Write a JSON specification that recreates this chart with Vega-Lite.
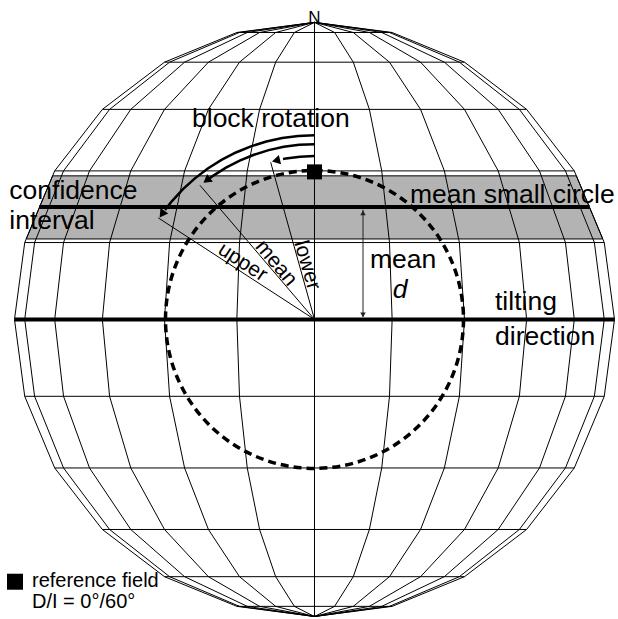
{
"$schema": "https://vega.github.io/schema/vega-lite/v6.json",
"width": 618, "height": 619,
"autosize": {"type": "fit", "contains": "padding"},
"padding": 0,
"background": "white",
"config": {"view": {"stroke": null}, "text": {"font": "Liberation Sans"}},
"datasets": {
"mer": [
{"m":0,"x":0,"y":-1},{"m":0,"x":0,"y":1},
{"m":15,"x":0,"y":-1},{"m":15,"x":0.067,"y":-0.9659},{"m":15,"x":0.1294,"y":-0.866},{"m":15,"x":0.183,"y":-0.7071},{"m":15,"x":0.2241,"y":-0.5},{"m":15,"x":0.25,"y":-0.2588},{"m":15,"x":0.2588,"y":0},{"m":15,"x":0.25,"y":0.2588},{"m":15,"x":0.2241,"y":0.5},{"m":15,"x":0.183,"y":0.7071},{"m":15,"x":0.1294,"y":0.866},{"m":15,"x":0.067,"y":0.9659},{"m":15,"x":0,"y":1},
{"m":30,"x":0,"y":-1},{"m":30,"x":0.1294,"y":-0.9659},{"m":30,"x":0.25,"y":-0.866},{"m":30,"x":0.3536,"y":-0.7071},{"m":30,"x":0.433,"y":-0.5},{"m":30,"x":0.483,"y":-0.2588},{"m":30,"x":0.5,"y":0},{"m":30,"x":0.483,"y":0.2588},{"m":30,"x":0.433,"y":0.5},{"m":30,"x":0.3536,"y":0.7071},{"m":30,"x":0.25,"y":0.866},{"m":30,"x":0.1294,"y":0.9659},{"m":30,"x":0,"y":1},
{"m":45,"x":0,"y":-1},{"m":45,"x":0.183,"y":-0.9659},{"m":45,"x":0.3536,"y":-0.866},{"m":45,"x":0.5,"y":-0.7071},{"m":45,"x":0.6124,"y":-0.5},{"m":45,"x":0.683,"y":-0.2588},{"m":45,"x":0.7071,"y":0},{"m":45,"x":0.683,"y":0.2588},{"m":45,"x":0.6124,"y":0.5},{"m":45,"x":0.5,"y":0.7071},{"m":45,"x":0.3536,"y":0.866},{"m":45,"x":0.183,"y":0.9659},{"m":45,"x":0,"y":1},
{"m":60,"x":0,"y":-1},{"m":60,"x":0.2241,"y":-0.9659},{"m":60,"x":0.433,"y":-0.866},{"m":60,"x":0.6124,"y":-0.7071},{"m":60,"x":0.75,"y":-0.5},{"m":60,"x":0.8365,"y":-0.2588},{"m":60,"x":0.866,"y":0},{"m":60,"x":0.8365,"y":0.2588},{"m":60,"x":0.75,"y":0.5},{"m":60,"x":0.6124,"y":0.7071},{"m":60,"x":0.433,"y":0.866},{"m":60,"x":0.2241,"y":0.9659},{"m":60,"x":0,"y":1},
{"m":75,"x":0,"y":-1},{"m":75,"x":0.25,"y":-0.9659},{"m":75,"x":0.483,"y":-0.866},{"m":75,"x":0.683,"y":-0.7071},{"m":75,"x":0.8365,"y":-0.5},{"m":75,"x":0.933,"y":-0.2588},{"m":75,"x":0.9659,"y":0},{"m":75,"x":0.933,"y":0.2588},{"m":75,"x":0.8365,"y":0.5},{"m":75,"x":0.683,"y":0.7071},{"m":75,"x":0.483,"y":0.866},{"m":75,"x":0.25,"y":0.9659},{"m":75,"x":0,"y":1},
{"m":90,"x":0,"y":-1},{"m":90,"x":0.2588,"y":-0.9659},{"m":90,"x":0.5,"y":-0.866},{"m":90,"x":0.7071,"y":-0.7071},{"m":90,"x":0.866,"y":-0.5},{"m":90,"x":0.9659,"y":-0.2588},{"m":90,"x":1,"y":0},{"m":90,"x":0.9659,"y":0.2588},{"m":90,"x":0.866,"y":0.5},{"m":90,"x":0.7071,"y":0.7071},{"m":90,"x":0.5,"y":0.866},{"m":90,"x":0.2588,"y":0.9659},{"m":90,"x":0,"y":1},
{"m":-15,"x":0,"y":-1},{"m":-15,"x":-0.067,"y":-0.9659},{"m":-15,"x":-0.1294,"y":-0.866},{"m":-15,"x":-0.183,"y":-0.7071},{"m":-15,"x":-0.2241,"y":-0.5},{"m":-15,"x":-0.25,"y":-0.2588},{"m":-15,"x":-0.2588,"y":0},{"m":-15,"x":-0.25,"y":0.2588},{"m":-15,"x":-0.2241,"y":0.5},{"m":-15,"x":-0.183,"y":0.7071},{"m":-15,"x":-0.1294,"y":0.866},{"m":-15,"x":-0.067,"y":0.9659},{"m":-15,"x":0,"y":1},
{"m":-30,"x":0,"y":-1},{"m":-30,"x":-0.1294,"y":-0.9659},{"m":-30,"x":-0.25,"y":-0.866},{"m":-30,"x":-0.3536,"y":-0.7071},{"m":-30,"x":-0.433,"y":-0.5},{"m":-30,"x":-0.483,"y":-0.2588},{"m":-30,"x":-0.5,"y":0},{"m":-30,"x":-0.483,"y":0.2588},{"m":-30,"x":-0.433,"y":0.5},{"m":-30,"x":-0.3536,"y":0.7071},{"m":-30,"x":-0.25,"y":0.866},{"m":-30,"x":-0.1294,"y":0.9659},{"m":-30,"x":0,"y":1},
{"m":-45,"x":0,"y":-1},{"m":-45,"x":-0.183,"y":-0.9659},{"m":-45,"x":-0.3536,"y":-0.866},{"m":-45,"x":-0.5,"y":-0.7071},{"m":-45,"x":-0.6124,"y":-0.5},{"m":-45,"x":-0.683,"y":-0.2588},{"m":-45,"x":-0.7071,"y":0},{"m":-45,"x":-0.683,"y":0.2588},{"m":-45,"x":-0.6124,"y":0.5},{"m":-45,"x":-0.5,"y":0.7071},{"m":-45,"x":-0.3536,"y":0.866},{"m":-45,"x":-0.183,"y":0.9659},{"m":-45,"x":0,"y":1},
{"m":-60,"x":0,"y":-1},{"m":-60,"x":-0.2241,"y":-0.9659},{"m":-60,"x":-0.433,"y":-0.866},{"m":-60,"x":-0.6124,"y":-0.7071},{"m":-60,"x":-0.75,"y":-0.5},{"m":-60,"x":-0.8365,"y":-0.2588},{"m":-60,"x":-0.866,"y":0},{"m":-60,"x":-0.8365,"y":0.2588},{"m":-60,"x":-0.75,"y":0.5},{"m":-60,"x":-0.6124,"y":0.7071},{"m":-60,"x":-0.433,"y":0.866},{"m":-60,"x":-0.2241,"y":0.9659},{"m":-60,"x":0,"y":1},
{"m":-75,"x":0,"y":-1},{"m":-75,"x":-0.25,"y":-0.9659},{"m":-75,"x":-0.483,"y":-0.866},{"m":-75,"x":-0.683,"y":-0.7071},{"m":-75,"x":-0.8365,"y":-0.5},{"m":-75,"x":-0.933,"y":-0.2588},{"m":-75,"x":-0.9659,"y":0},{"m":-75,"x":-0.933,"y":0.2588},{"m":-75,"x":-0.8365,"y":0.5},{"m":-75,"x":-0.683,"y":0.7071},{"m":-75,"x":-0.483,"y":0.866},{"m":-75,"x":-0.25,"y":0.9659},{"m":-75,"x":0,"y":1},
{"m":-90,"x":0,"y":-1},{"m":-90,"x":-0.2588,"y":-0.9659},{"m":-90,"x":-0.5,"y":-0.866},{"m":-90,"x":-0.7071,"y":-0.7071},{"m":-90,"x":-0.866,"y":-0.5},{"m":-90,"x":-0.9659,"y":-0.2588},{"m":-90,"x":-1,"y":0},{"m":-90,"x":-0.9659,"y":0.2588},{"m":-90,"x":-0.866,"y":0.5},{"m":-90,"x":-0.7071,"y":0.7071},{"m":-90,"x":-0.5,"y":0.866},{"m":-90,"x":-0.2588,"y":0.9659},{"m":-90,"x":0,"y":1}
],
"par": [
{"y":0.2588,"x":-0.9659,"x2":0.9659},{"y":-0.2588,"x":-0.9659,"x2":0.9659},
{"y":0.5,"x":-0.866,"x2":0.866},{"y":-0.5,"x":-0.866,"x2":0.866},
{"y":0.7071,"x":-0.7071,"x2":0.7071},{"y":-0.7071,"x":-0.7071,"x2":0.7071},
{"y":0.866,"x":-0.5,"x2":0.5},{"y":-0.866,"x":-0.5,"x2":0.5},
{"y":0.9659,"x":-0.2588,"x2":0.2588},{"y":-0.9659,"x":-0.2588,"x2":0.2588}
],
"band": [{"y":0.4833,"x":-0.8729,"x2":0.8729},{"y":0.2709,"x":-0.9609,"x2":0.9609}],
"thick": [{"y":0,"x":-1,"x2":1},{"y":0.3786,"x":-0.917,"x2":0.917}],
"center": [{"x":0,"y":0}],
"reffield": [{"x":0,"y":0.4967}],
"legsq": [{"x":-0.9983,"y":-0.883}],
"radials": [{"x":0,"y":0,"x2":-0.5207,"y2":0.3418},{"x":0,"y":0,"x2":-0.3817,"y2":0.4515},{"x":0,"y":0,"x2":-0.146,"y2":0.529}],
"arcs": [
{"a":1,"x":0,"y":0.62},{"a":1,"x":-0.0541,"y":0.6176},{"a":1,"x":-0.1076,"y":0.6106},{"a":1,"x":-0.1605,"y":0.5989},{"a":1,"x":-0.212,"y":0.5826},{"a":1,"x":-0.262,"y":0.5619},{"a":1,"x":-0.31,"y":0.5369},{"a":1,"x":-0.3556,"y":0.5079},{"a":1,"x":-0.3985,"y":0.4749},{"a":1,"x":-0.4384,"y":0.4384},{"a":1,"x":-0.4749,"y":0.3985},{"a":1,"x":-0.4984,"y":0.3688},
{"a":2,"x":0,"y":0.59},{"a":2,"x":-0.0514,"y":0.5878},{"a":2,"x":-0.1024,"y":0.581},{"a":2,"x":-0.1527,"y":0.5699},{"a":2,"x":-0.2018,"y":0.5544},{"a":2,"x":-0.2493,"y":0.5347},{"a":2,"x":-0.295,"y":0.5109},{"a":2,"x":-0.3384,"y":0.4833},{"a":2,"x":-0.3512,"y":0.4741},
{"a":3,"x":0,"y":0.55},{"a":3,"x":-0.048,"y":0.5479},{"a":3,"x":-0.0955,"y":0.5416},{"a":3,"x":-0.1049,"y":0.5399}
],
"head1": [{"x":-0.5083,"y":0.3548}],
"head2": [{"x":-0.3592,"y":0.4681}],
"head3": [{"x":-0.1284,"y":0.5348}],
"dline": [{"x":0.1617,"y":0.0084,"y2":0.369}],
"dtop": [{"x":0.1617,"y":0.3589}],
"dbot": [{"x":0.1617,"y":0.0157}],
"big": [
{"x":-0.4083,"y":0.6462,"t":"block rotation"},
{"x":-1.0173,"y":0.4064,"t":"confidence"},
{"x":-1.0173,"y":0.306,"t":"interval"},
{"x":0.3183,"y":0.393,"t":"mean small circle"},
{"x":0.185,"y":0.1722,"t":"mean"},
{"x":0.6017,"y":0.0318,"t":"tilting"},
{"x":0.6017,"y":-0.0853,"t":"direction"}
],
"dlab": [{"x":0.2607,"y":0.0719,"t":"d"}],
"nlab": [{"x":0,"y":0.997,"t":"N"}],
"leg": [{"x":-0.9417,"y":-0.9013,"t":"reference field"},{"x":-0.9417,"y":-0.9716,"t":"D/I = 0°/60°"}],
"lupper": [{"x":-0.24,"y":0.1923,"t":"upper"}],
"lmean": [{"x":-0.1283,"y":0.189,"t":"mean"}],
"llower": [{"x":-0.025,"y":0.1823,"t":"lower"}]
},
"encoding": {
"x": {"field":"x","type":"quantitative","scale":{"domain":[-1.0483,1.0117],"nice":false,"zero":false},"axis":null},
"y": {"field":"y","type":"quantitative","scale":{"domain":[-0.995,1.0753],"nice":false,"zero":false},"axis":null}
},
"layer": [
{"data":{"name":"band"},"mark":{"type":"area","orient":"horizontal","fill":"#b3b3b3","stroke":"black","strokeWidth":1,"opacity":1},"encoding":{"x2":{"field":"x2"}}},
{"data":{"name":"par"},"mark":{"type":"rule","color":"black","strokeWidth":1},"encoding":{"x2":{"field":"x2"}}},
{"data":{"name":"mer"},"mark":{"type":"line","color":"black","strokeWidth":1},"encoding":{"detail":{"field":"m","type":"nominal"},"order":{"field":"y","type":"quantitative"}}},
{"data":{"name":"thick"},"mark":{"type":"rule","color":"black","strokeWidth":4},"encoding":{"x2":{"field":"x2"}}},
{"data":{"name":"center"},"mark":{"type":"point","shape":"circle","size":88804,"filled":false,"stroke":"black","strokeWidth":3.5,"strokeDash":[8,5],"opacity":1},"encoding":{}},
{"data":{"name":"reffield"},"mark":{"type":"point","shape":"square","size":225,"filled":true,"color":"black","opacity":1},"encoding":{}},
{"data":{"name":"legsq"},"mark":{"type":"point","shape":"square","size":256,"filled":true,"color":"black","opacity":1},"encoding":{}},
{"data":{"name":"radials"},"mark":{"type":"rule","color":"black","strokeWidth":1},"encoding":{"x2":{"field":"x2"},"y2":{"field":"y2"}}},
{"data":{"name":"arcs"},"mark":{"type":"line","color":"black","strokeWidth":2.5},"encoding":{"detail":{"field":"a","type":"nominal"}}},
{"data":{"name":"head1"},"mark":{"type":"point","shape":"triangle-up","size":90,"filled":true,"color":"black","opacity":1,"angle":215},"encoding":{}},
{"data":{"name":"head2"},"mark":{"type":"point","shape":"triangle-up","size":90,"filled":true,"color":"black","opacity":1,"angle":232.5},"encoding":{}},
{"data":{"name":"head3"},"mark":{"type":"point","shape":"triangle-up","size":90,"filled":true,"color":"black","opacity":1,"angle":256.5},"encoding":{}},
{"data":{"name":"dline"},"mark":{"type":"rule","color":"#222222","strokeWidth":1},"encoding":{"y2":{"field":"y2"}}},
{"data":{"name":"dtop"},"mark":{"type":"point","shape":"triangle-up","size":30,"filled":true,"color":"#222222","opacity":1,"angle":0},"encoding":{}},
{"data":{"name":"dbot"},"mark":{"type":"point","shape":"triangle-up","size":30,"filled":true,"color":"#222222","opacity":1,"angle":180},"encoding":{}},
{"data":{"name":"big"},"mark":{"type":"text","fontSize":26.5,"align":"left","baseline":"alphabetic","color":"black"},"encoding":{"text":{"field":"t"}}},
{"data":{"name":"dlab"},"mark":{"type":"text","fontSize":26.5,"fontStyle":"italic","align":"left","baseline":"alphabetic","color":"black"},"encoding":{"text":{"field":"t"}}},
{"data":{"name":"nlab"},"mark":{"type":"text","fontSize":17,"align":"center","baseline":"alphabetic","color":"black"},"encoding":{"text":{"field":"t"}}},
{"data":{"name":"leg"},"mark":{"type":"text","fontSize":20,"align":"left","baseline":"alphabetic","color":"black"},"encoding":{"text":{"field":"t"}}},
{"data":{"name":"lupper"},"mark":{"type":"text","fontSize":21,"align":"center","baseline":"middle","angle":33,"color":"black"},"encoding":{"text":{"field":"t"}}},
{"data":{"name":"lmean"},"mark":{"type":"text","fontSize":21,"align":"center","baseline":"middle","angle":50,"color":"black"},"encoding":{"text":{"field":"t"}}},
{"data":{"name":"llower"},"mark":{"type":"text","fontSize":21,"align":"center","baseline":"middle","angle":74,"color":"black"},"encoding":{"text":{"field":"t"}}}
]
}
